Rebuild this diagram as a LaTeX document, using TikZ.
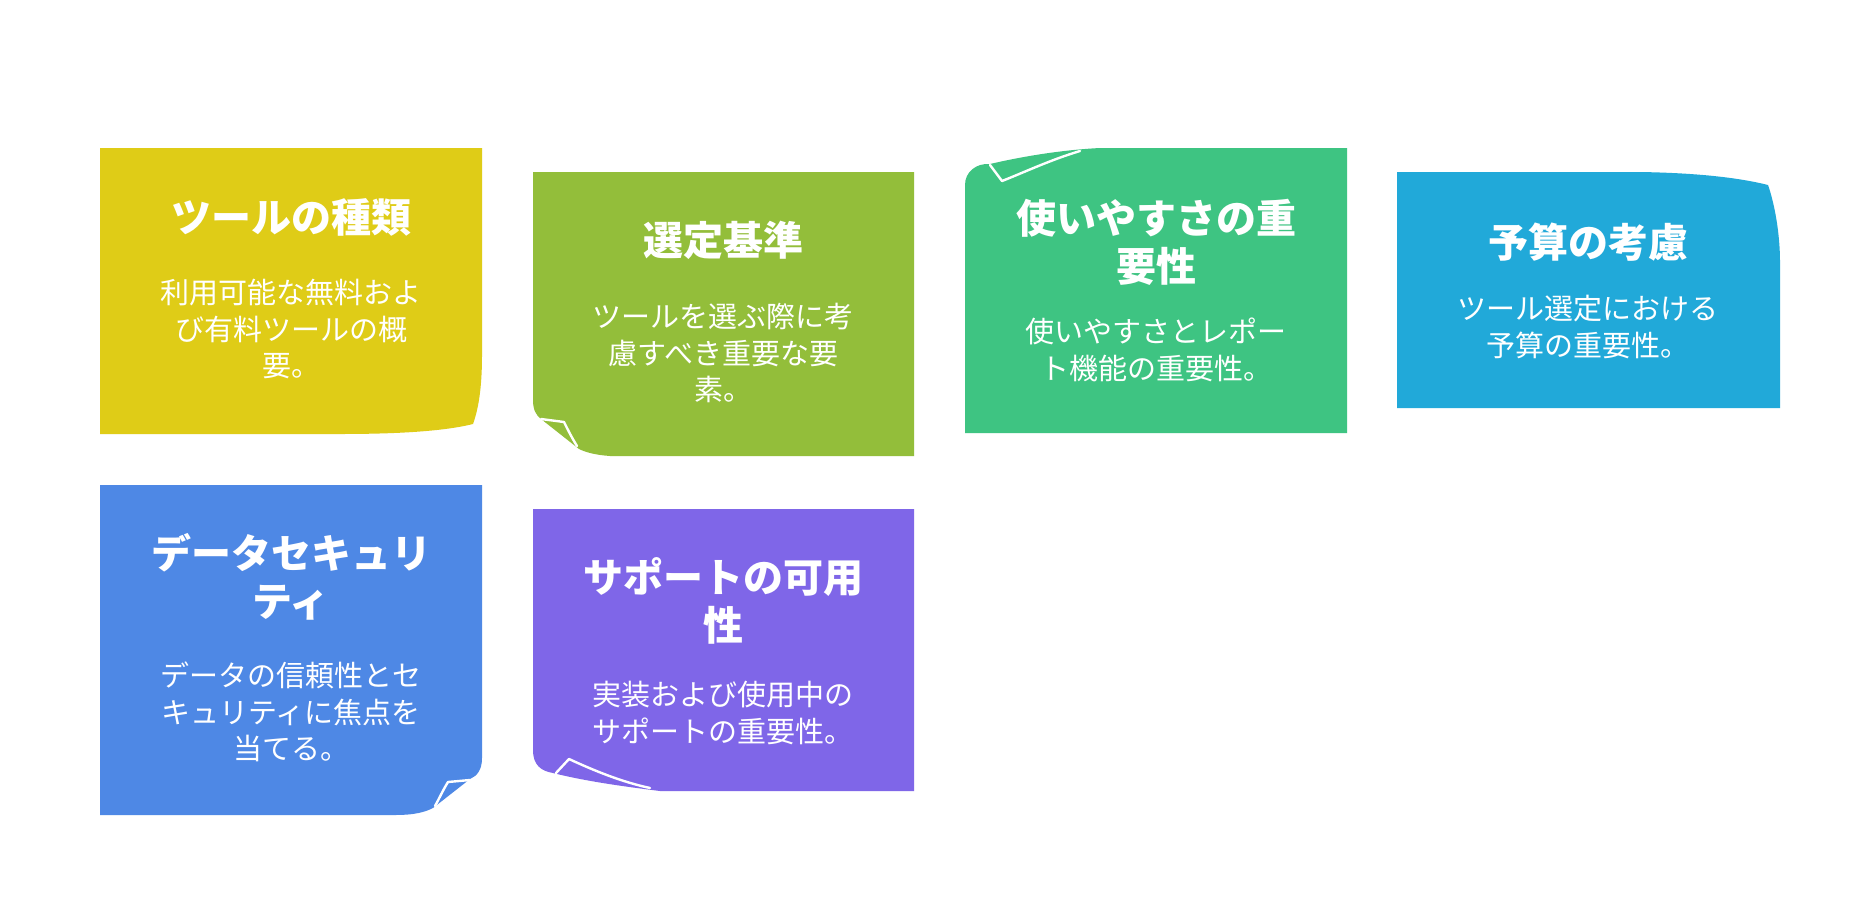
\documentclass[tikz,border=0pt]{standalone}
\usepackage{fontspec}
\setmainfont{Noto Sans CJK JP}
\definecolor{cyel}{HTML}{DFCC17}
\definecolor{clime}{HTML}{93BE3A}
\definecolor{cgreen}{HTML}{3EC482}
\definecolor{csky}{HTML}{21A9D9}
\definecolor{cblue}{HTML}{4E88E5}
\definecolor{cpurple}{HTML}{7F66E8}
\tikzset{
  ttl/.style={text=white, align=center, inner sep=0pt, font=\fontsize{40}{48}\selectfont\bfseries},
  bdy/.style={text=white, align=center, inner sep=0pt, font=\fontsize{29}{36.5}\selectfont},
  crease/.style={draw=white, line width=2.4pt, line cap=round, line join=round}
}
\begin{document}
\begin{tikzpicture}[x=1pt,y=-1pt]
\fill[white] (0,0) rectangle (1876,916);
\useasboundingbox (0,0) rectangle (1876,916);
% card 1
\fill[cyel] (100,148) -- (482,148) -- (482,355) .. controls (482,390) and (478,410) .. (473,424) .. controls (445,431) and (400,434) .. (340,434) -- (100,434) -- cycle;
% card 2
\fill[clime] (533,172) -- (914,172) -- (914,456) -- (610,456) .. controls (595,455) and (585,452) .. (579,449) -- (541,419) .. controls (536,415) and (533,410) .. (533,400) -- cycle;
\draw[crease] (541,419) -- (564,422) .. controls (568,430) and (572,438) .. (577,446);
% card 3
\fill[cgreen] (965,433) -- (965,185) .. controls (965,172) and (976,163) .. (990,164) .. controls (1020,157) and (1060,150) .. (1100,148) -- (1347,148) -- (1347,433) -- cycle;
\draw[crease] (990,165) -- (1002,181) .. controls (1025,172) and (1050,160) .. (1080,151);
% card 4
\fill[csky] (1397,408) -- (1397,172) -- (1640,172) .. controls (1700,173) and (1740,178) .. (1768,185) .. controls (1775,205) and (1780,235) .. (1780,262) -- (1780,408) -- cycle;
% card 5
\fill[cblue] (100,485) -- (482,485) -- (482,758) .. controls (482,770) and (477,776) .. (470,779) -- (433,808) .. controls (425,812) and (415,815) .. (395,815) -- (100,815) -- cycle;
\draw[crease] (470,780) -- (448,782) .. controls (443,790) and (439,799) .. (435,806);
% card 6
\fill[cpurple] (533,509) -- (914,509) -- (914,791) -- (660,791) .. controls (620,786) and (585,781) .. (553,773) .. controls (541,771) and (533,765) .. (533,750) -- cycle;
\draw[crease] (556,773) -- (569,759) .. controls (595,771) and (622,782) .. (650,788);
% texts
\node[ttl] (t1) at (291,217) {ツールの種類};
\node[bdy] (b1) at (291,329) {利用可能な無料およ\\び有料ツールの概\\要。};
\node[ttl] (t2) at (723,240) {選定基準};
\node[bdy] (b2) at (723,353) {ツールを選ぶ際に考\\慮すべき重要な要\\素。};
\node[ttl] (t3) at (1156,242) {使いやすさの重\\要性};
\node[bdy] (b3) at (1156,350) {使いやすさとレポー\\ト機能の重要性。};
\node[ttl] (t4) at (1588,242) {予算の考慮};
\node[bdy] (b4) at (1588,327) {ツール選定における\\予算の重要性。};
\node[ttl] (t5) at (291,577) {データセキュリ\\ティ};
\node[bdy] (b5) at (291,712) {データの信頼性とセ\\キュリティに焦点を\\当てる。};
\node[ttl] (t6) at (723,601) {サポートの可用\\性};
\node[bdy] (b6) at (723,713) {実装および使用中の\\サポートの重要性。};
\end{tikzpicture}
\end{document}
